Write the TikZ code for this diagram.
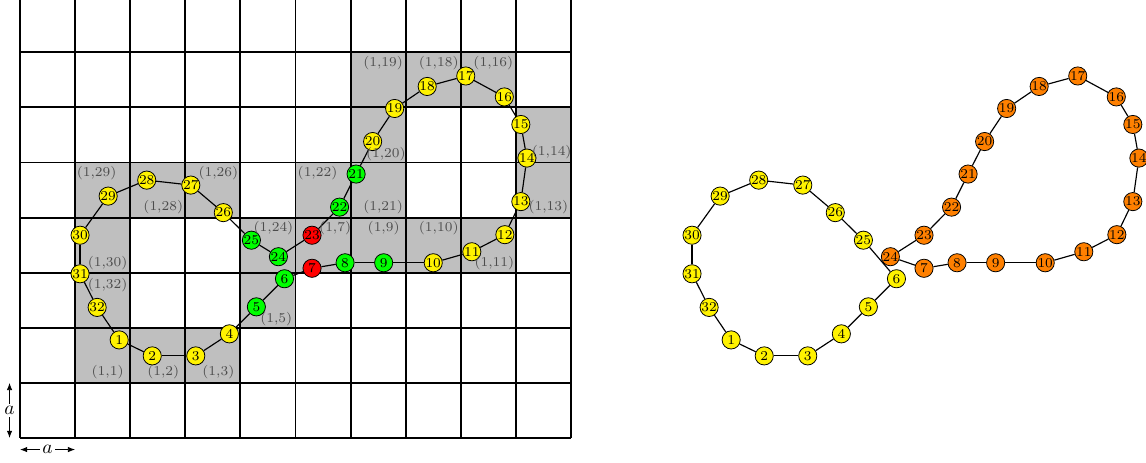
\documentclass[tikz,border=0pt]{standalone}
\usetikzlibrary{arrows.meta}
\pgfdeclarelayer{bg}
\pgfdeclarelayer{edges}
\pgfsetlayers{bg,edges,main}

\begin{document}
\begin{tikzpicture}[
  vtx/.style={draw, circle, minimum size=0.33cm, inner sep=0pt, font=\scriptsize},
  lbl/.style={font=\scriptsize, text=black!70},
  link/.style={semithick},
  dim/.style={{Latex[length=1.3mm]}-{Latex[length=1.3mm]}},
]
  \useasboundingbox (-0.363,-0.436) rectangle (20.436,7.949);

  % grid with the visited cells
  \begin{pgfonlayer}{bg}
    \foreach \c/\r in {1/1,2/1,3/1,1/2,1/3,1/4,2/4,3/4,4/2,4/3,5/3,5/4,
                       6/3,6/4,6/5,6/6,7/3,7/6,8/3,8/6,9/4,9/5}
      \fill[lightgray] (\c,\r) rectangle ++(1,1);
    \draw[line width=1pt] (0,0) grid (10,8);
  \end{pgfonlayer}

  % tour: number/x/y/colour left/colour right
  \def\tour{1/1.80/1.78/yellow/yellow, 2/2.40/1.49/yellow/yellow,
    3/3.19/1.49/yellow/yellow, 4/3.80/1.89/yellow/yellow,
    5/4.29/2.38/green/yellow, 6/4.80/2.89/green/yellow,
    7/5.30/3.08/red/orange, 8/5.90/3.18/green/orange,
    9/6.60/3.18/green/orange, 10/7.50/3.18/yellow/orange,
    11/8.20/3.38/yellow/orange, 12/8.80/3.69/yellow/orange,
    13/9.09/4.29/yellow/orange, 14/9.20/5.08/yellow/orange,
    15/9.09/5.69/yellow/orange, 16/8.79/6.19/yellow/orange,
    17/8.09/6.57/yellow/orange, 18/7.39/6.38/yellow/orange,
    19/6.80/5.98/yellow/orange, 20/6.40/5.38/yellow/orange,
    21/6.10/4.79/green/orange, 22/5.80/4.19/green/orange,
    23/5.30/3.68/red/orange, 24/4.69/3.29/green/orange,
    25/4.20/3.59/green/yellow, 26/3.69/4.09/yellow/yellow,
    27/3.10/4.59/yellow/yellow, 28/2.30/4.68/yellow/yellow,
    29/1.60/4.39/yellow/yellow, 30/1.09/3.68/yellow/yellow,
    31/1.09/2.98/yellow/yellow, 32/1.40/2.37/yellow/yellow}
  \foreach \n/\x/\y/\cl/\cr in \tour {
    \node[vtx, fill=\cl] (l\n) at (\x,\y) {\n};
    \node[vtx, fill=\cr] (r\n) at (\x+11.107,\y) {\n};
  }

  \begin{pgfonlayer}{edges}
    \foreach \i [evaluate=\i as \j using {int(mod(\i,32)+1)}] in {1,...,32}
      \draw[link] (l\i) -- (l\j);
    \foreach \i [evaluate=\i as \j using {int(\i+1)}] in {1,...,5}
      \draw[link] (r\i) -- (r\j);
    \foreach \i [evaluate=\i as \j using {int(\i+1)}] in {7,...,23}
      \draw[link] (r\i) -- (r\j);
    \foreach \i [evaluate=\i as \j using {int(\i+1)}] in {25,...,31}
      \draw[link] (r\i) -- (r\j);
    \draw[link] (r6) -- (r25) (r32) -- (r1) (r24) -- (r7);
  \end{pgfonlayer}

  % cell labels
  \node[lbl] (c1)  at (1.59,1.19) {(1,1)};
  \node[lbl] (c2)  at (2.60,1.19) {(1,2)};
  \node[lbl] (c3)  at (3.60,1.19) {(1,3)};
  \node[lbl] (c5)  at (4.65,2.15) {(1,5)};
  \node[lbl] (c7)  at (5.72,3.81) {(1,7)};
  \node[lbl] (c9)  at (6.60,3.81) {(1,9)};
  \node[lbl] (c10) at (7.60,3.81) {(1,10)};
  \node[lbl] (c11) at (8.61,3.18) {(1,11)};
  \node[lbl] (c13) at (9.59,4.19) {(1,13)};
  \node[lbl] (c14) at (9.65,5.19) {(1,14)};
  \node[lbl] (c16) at (8.59,6.80) {(1,16)};
  \node[lbl] (c18) at (7.60,6.80) {(1,18)};
  \node[lbl] (c19) at (6.59,6.80) {(1,19)};
  \node[lbl] (c20) at (6.64,5.15) {(1,20)};
  \node[lbl] (c21) at (6.59,4.19) {(1,21)};
  \node[lbl] (c22) at (5.40,4.80) {(1,22)};
  \node[lbl] (c24) at (4.60,3.81) {(1,24)};
  \node[lbl] (c26) at (3.60,4.80) {(1,26)};
  \node[lbl] (c28) at (2.60,4.19) {(1,28)};
  \node[lbl] (c29) at (1.39,4.80) {(1,29)};
  \node[lbl] (c30) at (1.59,3.18) {(1,30)};
  \node[lbl] (c32) at (1.59,2.78) {(1,32)};

  % cell size
  \coordinate (v0) at (-0.19,0);
  \coordinate (v1) at (-0.19,1);
  \coordinate (h0) at (0,-0.21);
  \coordinate (h1) at (1,-0.21);
  \draw[dim] (v0) -- node[fill=white, inner sep=1pt] (va) {$a$} (v1);
  \draw[dim] (h0) -- node[fill=white, inner sep=1pt] (ha) {$a$} (h1);
\end{tikzpicture}
\end{document}
